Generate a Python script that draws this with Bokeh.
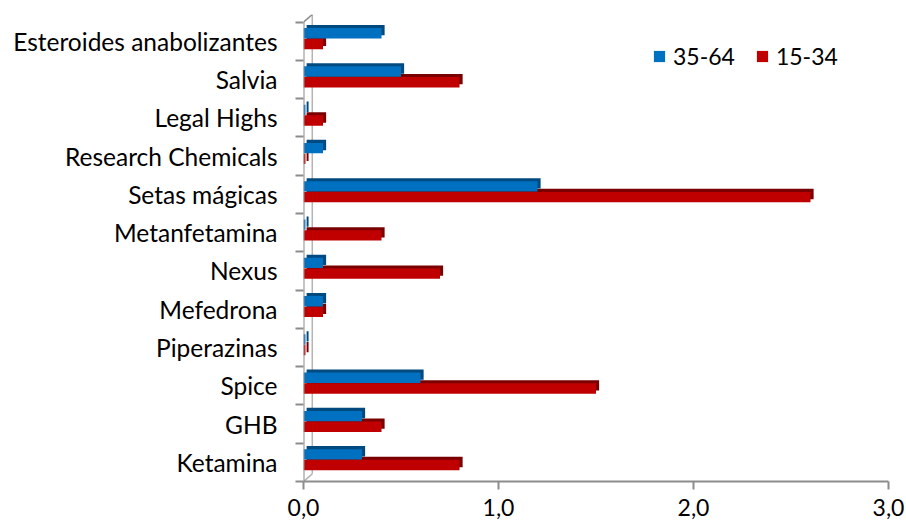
from bokeh.plotting import figure
from bokeh.models import FixedTicker, Range1d, Legend, LegendItem, ColumnDataSource
from bokeh.embed import file_html
from bokeh.resources import INLINE

# ---- data (bottom to top, as drawn) ----
categories = ["Ketamina", "GHB", "Spice", "Piperazinas", "Mefedrona", "Nexus",
              "Metanfetamina", "Setas mágicas", "Research Chemicals", "Legal Highs",
              "Salvia", "Esteroides anabolizantes"]
values_35_64 = [0.3, 0.3, 0.6, 0.01, 0.1, 0.1, 0.01, 1.2, 0.1, 0.01, 0.5, 0.4]
values_15_34 = [0.8, 0.4, 1.5, 0.01, 0.1, 0.7, 0.4, 2.6, 0.01, 0.1, 0.8, 0.1]
series_names = ["35-64", "15-34"]
x_ticks = [0, 1, 2, 3]
x_tick_labels = ["0,0", "1,0", "2,0", "3,0"]

# ---- styling ----
FONT = "Lato"
FS = "23px"
FS_CAT = "24.5px"
BLUE, BLUE_DARK = "#0070C0", "#004A80"
RED, RED_DARK = "#C00000", "#7A0000"
AXIS = "#8C8C8C"
WALL = "#B4B4B4"
BAR_H = 0.27
OFF_BLUE, OFF_RED = 0.71, 0.43
DX, DY = 0.016, 0.08      # 3D depth of bars
WX, WY = 0.045, 0.2       # 3D depth of wall

n = len(categories)
idx = list(range(n))

p = figure(width=906, height=526, x_range=Range1d(0, 3), y_range=Range1d(0, n + WY),
           output_backend="svg", toolbar_location=None,
           min_border_left=303, min_border_right=18, min_border_top=14, min_border_bottom=45)
p.outline_line_color = None
p.xgrid.grid_line_color = None
p.ygrid.grid_line_color = None
p.background_fill_color = "white"

# wall (3D back edge) and front axis line
p.line([WX, WX], [WY, n + WY], line_color=WALL, line_width=1.5)
p.line([0, WX], [n, n + WY], line_color=AXIS, line_width=1.5)
p.line([0, WX], [0, WY], line_color=WALL, line_width=1.5)

def src(vals, off, dx=0.0, dy=0.0):
    return ColumnDataSource(dict(
        y=[i + off + dy for i in idx],
        left=[dx for _ in idx],
        right=[v + dx for v in vals],
    ))

# red series (lower bar) first, then blue on top
p.hbar(y="y", left="left", right="right", height=BAR_H, source=src(values_15_34, OFF_RED, DX, DY),
       fill_color=RED_DARK, line_color=None)
red_r = p.hbar(y="y", left="left", right="right", height=BAR_H, source=src(values_15_34, OFF_RED),
               fill_color=RED, line_color=None)
p.hbar(y="y", left="left", right="right", height=BAR_H, source=src(values_35_64, OFF_BLUE, DX, DY),
       fill_color=BLUE_DARK, line_color=None)
blue_r = p.hbar(y="y", left="left", right="right", height=BAR_H, source=src(values_35_64, OFF_BLUE),
                fill_color=BLUE, line_color=None)

p.line([0, 0], [0, n], line_color=AXIS, line_width=2)

# x axis
xa = p.xaxis[0]
xa.ticker = FixedTicker(ticks=x_ticks)
xa.major_label_overrides = {t: l for t, l in zip(x_ticks, x_tick_labels)}
xa.axis_line_color = AXIS
xa.axis_line_width = 2
xa.major_tick_line_color = AXIS
xa.major_tick_line_width = 2
xa.major_tick_out = 8
xa.major_tick_in = 0
xa.minor_tick_line_color = None
xa.major_label_text_font = FONT
xa.major_label_text_font_size = FS
xa.major_label_text_color = "black"
xa.major_label_standoff = 9

# y axis
ya = p.yaxis[0]
ya.ticker = FixedTicker(ticks=[i + 0.5 for i in idx], minor_ticks=list(range(n + 1)))
ya.major_label_overrides = {i + 0.5: c for i, c in zip(idx, categories)}
ya.axis_line_color = None
ya.major_tick_line_color = None
ya.major_tick_out = 0
ya.major_tick_in = 0
ya.minor_tick_line_color = AXIS
ya.minor_tick_line_width = 2
ya.minor_tick_out = 8
ya.minor_tick_in = 0
ya.major_label_text_font = FONT
ya.major_label_text_font_size = FS_CAT
ya.major_label_text_color = "black"
ya.major_label_standoff = 18

legend = Legend(items=[LegendItem(label=series_names[0], renderers=[blue_r]),
                       LegendItem(label=series_names[1], renderers=[red_r])],
                orientation="horizontal", location=(349, 411),
                label_text_font=FONT, label_text_font_size=FS, label_text_color="black",
                glyph_width=14, glyph_height=14, label_standoff=7, spacing=20,
                padding=0, margin=0, border_line_color=None, background_fill_alpha=0)
p.add_layout(legend)

open("out.html", "w").write(file_html(p, INLINE))
